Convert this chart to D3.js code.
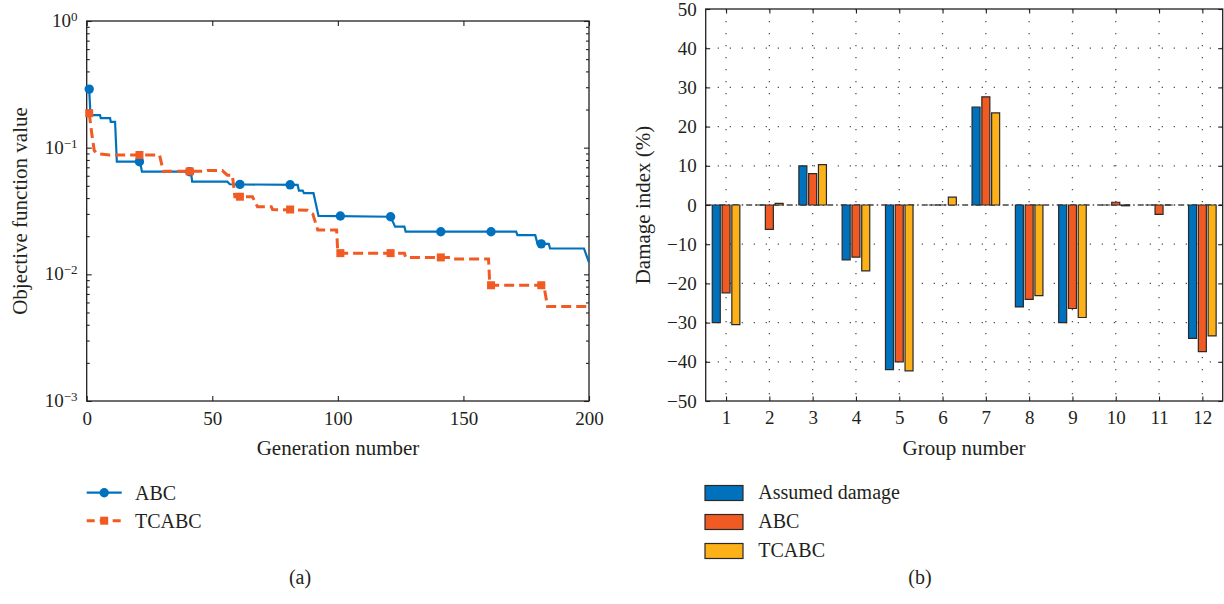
<!DOCTYPE html>
<html>
<head>
<meta charset="utf-8">
<script src="https://cdn.jsdelivr.net/npm/d3@7"></script>
<style>
    body { margin: 0; background: #fff; }
    text { font-family: 'Liberation Serif', 'Times New Roman', serif; fill: #231f20; }
</style>
</head>
<body>
<script>
// (a) convergence curves: [generation, objective value]
var abcCurve = [
    [1, 0.29], [1.5, 0.181], [5.3, 0.181], [5.6, 0.171], [9.3, 0.171], [9.6, 0.160], [11.3, 0.160],
    [12, 0.0775], [21.2, 0.0775], [22, 0.0646], [41.5, 0.0646], [42, 0.0539], [56, 0.0539],
    [57, 0.0514], [84, 0.0508], [84.5, 0.0458], [86, 0.0458], [86.5, 0.0437], [90.3, 0.0437],
    [92.3, 0.0289], [121, 0.0285], [122.8, 0.0238], [126.5, 0.0238], [127, 0.0217], [171, 0.0217],
    [171.5, 0.0204], [178.6, 0.0204], [179.5, 0.0174], [184, 0.0174], [184.5, 0.016], [198, 0.016],
    [200, 0.0124]
];
var tcabcCurve = [
    [1, 0.187], [2, 0.13], [3, 0.095], [4, 0.090], [9, 0.0875], [29, 0.0875], [30.5, 0.065],
    [47, 0.065], [48, 0.066], [54, 0.066], [56, 0.0607], [58, 0.0607], [59, 0.041], [66, 0.041],
    [68, 0.0342], [73.5, 0.0342], [74, 0.0325], [88, 0.032], [90, 0.030], [92, 0.0224],
    [99.5, 0.0224], [100, 0.0147], [126.5, 0.0147], [127, 0.0136], [145.5, 0.0136], [146, 0.0132],
    [160, 0.0132], [160.5, 0.0082], [182, 0.0082], [183.5, 0.00556], [200, 0.00556]
];
var markerGens = [1, 21, 41, 61, 81, 101, 121, 141, 161, 181];
var abcMarkers = [0.29, 0.0775, 0.0646, 0.0513, 0.0509, 0.0289, 0.0285, 0.0217, 0.0217, 0.0174];
var tcabcMarkers = [0.187, 0.0875, 0.065, 0.041, 0.0325, 0.0147, 0.0147, 0.0136, 0.0082, 0.0082];
var genTicks = [0, 50, 100, 150, 200];
var logTicks = [1e-3, 1e-2, 1e-1, 1];

// (b) damage index per group (%)
var groups = [1, 2, 3, 4, 5, 6, 7, 8, 9, 10, 11, 12];
var assumedDamage = [-30, 0, 10, -14, -42, 0, 25, -26, -30, 0, 0, -34];
var abcDamage = [-22.4, -6.2, 8, -13.3, -40, 0, 27.6, -24.1, -26.4, 0.7, -2.4, -37.4];
var tcabcDamage = [-30.5, 0.4, 10.3, -16.8, -42.3, 2, 23.5, -23.1, -28.7, -0.2, 0, -33.4];
var damageTicks = [-50, -40, -30, -20, -10, 0, 10, 20, 30, 40, 50];

var blue = '#0072bd', orange = '#f15a22', yellow = '#fbb117', ink = '#231f20',
    serif = "'Liberation Serif', 'Times New Roman', serif";

var svg = d3.select('body').append('svg')
    .attr('width', 1224)
    .attr('height', 604);

var styleAxis = function(g, fontsize) {
    g.attr('color', ink)
        .attr('font-family', serif)
        .attr('font-size', fontsize);
    g.select('.domain').remove();
    g.selectAll('line').attr('stroke-width', 1.1);
    g.selectAll('text').style('font-family', serif);
    return g;
};

// ---------- (a) ----------
var xa = d3.scaleLinear().domain([0, 200]).range([86.7, 589]),
    ya = d3.scaleLog().domain([1e-3, 1]).range([401, 21]),
    minorTicks = ya.ticks().filter(function(v) { return logTicks.indexOf(v) < 0; }),
    left = svg.append('g');

left.append('g')
    .attr('transform', 'translate(0,401)')
    .call(d3.axisBottom(xa).tickValues(genTicks).tickSizeInner(-5).tickSizeOuter(0).tickPadding(10.5))
    .call(styleAxis, 19);
left.append('g')
    .attr('transform', 'translate(0,21)')
    .call(d3.axisTop(xa).tickValues(genTicks).tickSizeInner(-5).tickSizeOuter(0).tickFormat(''))
    .call(styleAxis, 19);

[[d3.axisLeft, 86.7], [d3.axisRight, 589]].forEach(function(side) {
    left.append('g')
        .attr('transform', 'translate(' + side[1] + ',0)')
        .call(side[0](ya).tickValues(logTicks).tickSizeInner(-5).tickSizeOuter(0).tickFormat(''))
        .call(styleAxis, 19);
    left.append('g')
        .attr('transform', 'translate(' + side[1] + ',0)')
        .call(side[0](ya).tickValues(minorTicks).tickSizeInner(-3).tickSizeOuter(0).tickFormat(''))
        .call(styleAxis, 19);
});

var powLabels = left.selectAll('.pow')
    .data(logTicks)
    .enter()
    .append('text')
    .attr('class', 'pow')
    .attr('text-anchor', 'end')
    .attr('x', 77.5)
    .attr('y', function(d) { return ya(d) + 6; })
    .attr('font-size', 19);
powLabels.append('tspan').text('10');
powLabels.append('tspan')
    .attr('font-size', 13)
    .attr('dy', -6)
    .text(function(d) {
        var e = Math.round(Math.log10(d));
        return e < 0 ? '\u2212' + (-e) : '' + e;
    });

left.append('rect')
    .attr('x', 86.7).attr('y', 21)
    .attr('width', 589 - 86.7).attr('height', 380)
    .attr('fill', 'none').attr('stroke', ink).attr('stroke-width', 1.3);

var line = d3.line()
    .x(function(d) { return xa(d[0]); })
    .y(function(d) { return ya(d[1]); });

left.append('path')
    .datum(abcCurve)
    .attr('d', line)
    .attr('fill', 'none')
    .attr('stroke', blue)
    .attr('stroke-width', 2.2);
left.selectAll('.abcm')
    .data(abcMarkers)
    .enter()
    .append('circle')
    .attr('class', 'abcm')
    .attr('cx', function(d, i) { return xa(markerGens[i]); })
    .attr('cy', function(d) { return ya(d); })
    .attr('r', 4.7)
    .attr('fill', blue);

left.append('path')
    .datum(tcabcCurve)
    .attr('d', line)
    .attr('fill', 'none')
    .attr('stroke', orange)
    .attr('stroke-width', 3)
    .attr('stroke-dasharray', '10,5');
left.selectAll('.tcm')
    .data(tcabcMarkers)
    .enter()
    .append('rect')
    .attr('class', 'tcm')
    .attr('x', function(d, i) { return xa(markerGens[i]) - 4; })
    .attr('y', function(d) { return ya(d) - 4; })
    .attr('width', 8)
    .attr('height', 8)
    .attr('fill', orange);

left.append('text')
    .attr('transform', 'translate(27,211) rotate(-90)')
    .attr('text-anchor', 'middle')
    .attr('font-size', 21)
    .text('Objective function value');
left.append('text')
    .attr('x', 338).attr('y', 455)
    .attr('text-anchor', 'middle')
    .attr('font-size', 21)
    .text('Generation number');

// legend (a)
left.append('line')
    .attr('x1', 86.7).attr('x2', 121.7).attr('y1', 492.7).attr('y2', 492.7)
    .attr('stroke', blue).attr('stroke-width', 2.2);
left.append('circle')
    .attr('cx', 104.2).attr('cy', 492.7).attr('r', 4.7).attr('fill', blue);
left.append('line')
    .attr('x1', 86.7).attr('x2', 121.7).attr('y1', 520.7).attr('y2', 520.7)
    .attr('stroke', orange).attr('stroke-width', 3).attr('stroke-dasharray', '8,5');
left.append('rect')
    .attr('x', 100.2).attr('y', 516.7).attr('width', 8).attr('height', 8).attr('fill', orange);
left.append('text').attr('x', 135).attr('y', 499.5).attr('font-size', 20).text('ABC');
left.append('text').attr('x', 135).attr('y', 527.5).attr('font-size', 20).text('TCABC');
left.append('text').attr('x', 300).attr('y', 584).attr('text-anchor', 'middle').attr('font-size', 20).text('(a)');

// ---------- (b) ----------
var xb = d3.scaleLinear().domain([0.53, 12.47]).range([705.7, 1222.7]),
    yb = d3.scaleLinear().domain([-50, 50]).range([401, 9]),
    right = svg.append('g'),
    series = [
        {name: 'Assumed damage', values: assumedDamage, color: blue, offset: -0.226},
        {name: 'ABC', values: abcDamage, color: orange, offset: 0},
        {name: 'TCABC', values: tcabcDamage, color: yellow, offset: 0.226}
    ],
    barWidth = 0.185;

// dotted grid
right.selectAll('.hgrid')
    .data(damageTicks.filter(function(d) { return d !== 0 && d !== 50 && d !== -50; }))
    .enter()
    .append('line')
    .attr('class', 'hgrid')
    .attr('x1', 705.7).attr('x2', 1222.7)
    .attr('y1', function(d) { return yb(d); })
    .attr('y2', function(d) { return yb(d); })
    .attr('stroke', '#555').attr('stroke-width', 1.3).attr('stroke-dasharray', '1.3,10.7');
right.selectAll('.vgrid')
    .data(groups)
    .enter()
    .append('line')
    .attr('class', 'vgrid')
    .attr('x1', function(d) { return xb(d); })
    .attr('x2', function(d) { return xb(d); })
    .attr('y1', 9).attr('y2', 401)
    .attr('stroke', '#555').attr('stroke-width', 1.3).attr('stroke-dasharray', '1.3,10.7');
right.append('line')
    .attr('x1', 705.7).attr('x2', 1222.7).attr('y1', yb(0)).attr('y2', yb(0))
    .attr('stroke', '#444').attr('stroke-width', 1.3).attr('stroke-dasharray', '6,3,1.5,3');

series.forEach(function(s) {
    right.selectAll(null)
        .data(s.values)
        .enter()
        .append('path')
        .attr('d', function(d, i) {
            var x0 = xb(groups[i] + s.offset - barWidth / 2),
                x1 = xb(groups[i] + s.offset + barWidth / 2);
            return 'M' + x0 + ',' + yb(0) + 'H' + x1 + 'V' + yb(d) + 'H' + x0 + 'Z';
        })
        .attr('fill', s.color)
        .attr('stroke', '#2a2a2a')
        .attr('stroke-width', 1.2);
});

right.append('g')
    .attr('transform', 'translate(0,401)')
    .call(d3.axisBottom(xb).tickValues(groups).tickSizeInner(-4.5).tickSizeOuter(0).tickPadding(9.5))
    .call(styleAxis, 19);
right.append('g')
    .attr('transform', 'translate(0,9)')
    .call(d3.axisTop(xb).tickValues(groups).tickSizeInner(-4.5).tickSizeOuter(0).tickFormat(''))
    .call(styleAxis, 19);
right.append('g')
    .attr('transform', 'translate(705.7,0)')
    .call(d3.axisLeft(yb).tickValues(damageTicks).tickSizeInner(-4.5).tickSizeOuter(0).tickPadding(9)
        .tickFormat(function(d) { return d < 0 ? '\u2212' + (-d) : d; }))
    .call(styleAxis, 19);
right.append('g')
    .attr('transform', 'translate(1222.7,0)')
    .call(d3.axisRight(yb).tickValues(damageTicks).tickSizeInner(-4.5).tickSizeOuter(0).tickFormat(''))
    .call(styleAxis, 19);

right.append('rect')
    .attr('x', 705.7).attr('y', 9)
    .attr('width', 1222.7 - 705.7).attr('height', 392)
    .attr('fill', 'none').attr('stroke', ink).attr('stroke-width', 1.3);

right.append('text')
    .attr('transform', 'translate(650,205) rotate(-90)')
    .attr('text-anchor', 'middle')
    .attr('font-size', 21)
    .text('Damage index (%)');
right.append('text')
    .attr('x', 964).attr('y', 455)
    .attr('text-anchor', 'middle')
    .attr('font-size', 21)
    .text('Group number');

// legend (b)
var legend = right.selectAll('.leg')
    .data(series)
    .enter()
    .append('g')
    .attr('class', 'leg')
    .attr('transform', function(d, i) { return 'translate(705,' + (485.5 + i * 29) + ')'; });
legend.append('rect')
    .attr('width', 38).attr('height', 15)
    .attr('fill', function(d) { return d.color; })
    .attr('stroke', '#2a2a2a').attr('stroke-width', 1.2);
legend.append('text')
    .attr('x', 53.3).attr('y', 13)
    .attr('font-size', 20)
    .text(function(d) { return d.name; });

right.append('text').attr('x', 920).attr('y', 584).attr('text-anchor', 'middle').attr('font-size', 20).text('(b)');
</script>
</body>
</html>
